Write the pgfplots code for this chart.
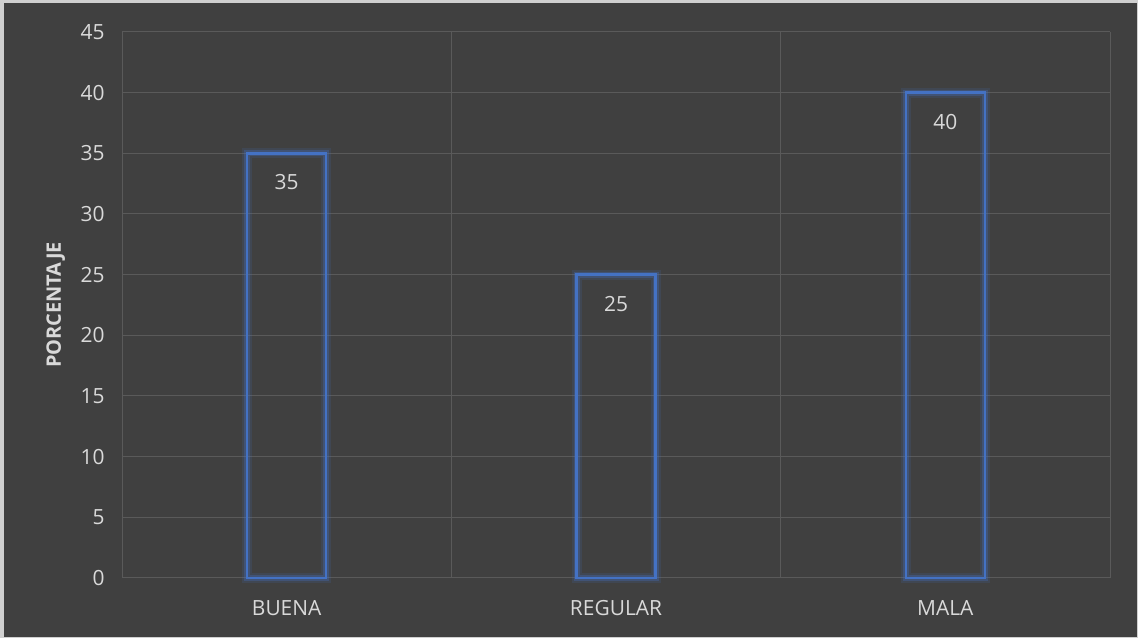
\documentclass[border=0pt]{standalone}
\usepackage{pgfplots}
\pgfplotsset{compat=1.18}
\usepackage{fontspec}
\setmainfont{Open Sans}
\definecolor{bg}{HTML}{404040}
\definecolor{gridc}{HTML}{5A5A5A}
\definecolor{txt}{HTML}{D9D9D9}
\definecolor{barc}{HTML}{4472C4}
\definecolor{frame}{HTML}{D0D0D0}
\begin{document}
\begin{tikzpicture}[x=1bp,y=1bp]
\fill[frame] (0,0) rectangle (1138,638);
\fill[bg] (4,1) rectangle (1137,635);
\begin{axis}[
  at={(122bp,60bp)}, anchor=south west,
  scale only axis, width=988bp, height=546bp,
  xmin=-0.5, xmax=2.5, ymin=0, ymax=45,
  xtick={0,1,2}, xticklabels={BUENA,REGULAR,MALA},
  minor xtick={-0.5,0.5,1.5,2.5},
  ytick={0,5,...,45},
  /pgf/number format/assume math mode=true,
  ymajorgrids, xminorgrids,
  grid style={gridc, line width=1bp},
  minor grid style={gridc, line width=1bp},
  axis line style={draw=none},
  tick style={draw=none},
  major tick length=0pt, minor tick length=0pt,
  ticklabel style={font=\fontsize{21}{24}\selectfont, text=txt},
  xticklabel style={yshift=-19bp},
  yticklabel style={xshift=-14bp},
  ylabel={PORCENTAJE},
  every axis y label/.style={at={(axis description cs:-0.067,0.5)}, rotate=90, anchor=center, font=\bfseries\fontsize{20}{24}\selectfont, text=txt},
  clip=false,
]
\addplot[ybar, bar width=79bp, bar shift=0pt, draw=barc, draw opacity=0.15, line width=10bp, fill=none] coordinates {(0,35) (1,25) (2,40)};
\addplot[ybar, bar width=79bp, bar shift=0pt, draw=barc, draw opacity=0.3, line width=6bp, fill=none] coordinates {(0,35) (1,25) (2,40)};
\addplot[ybar, bar width=79bp, bar shift=0pt, draw=barc, line width=2.5bp, fill=none,
  nodes near coords, every node near coord/.append style={font=\fontsize{21}{24}\selectfont, text=txt, anchor=center, yshift=-29bp}] coordinates {(0,35) (1,25) (2,40)};
\end{axis}
\end{tikzpicture}
\end{document}
